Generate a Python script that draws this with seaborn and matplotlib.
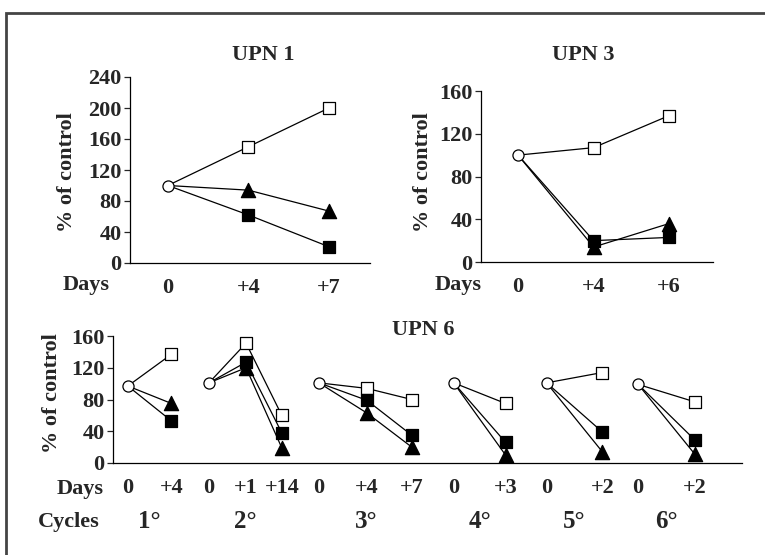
import pandas as pd
import matplotlib
matplotlib.use("Agg")
import matplotlib.pyplot as plt
import seaborn as sns
from matplotlib.patches import Rectangle

# Values (% of control)
upn1_days = ['0', '+4', '+7']
upn1_open = [100, 150, 200]
upn1_tri = [100, 94, 67]
upn1_fill = [100, 62, 21]

upn3_days = ['0', '+4', '+6']
upn3_open = [100, 107, 137]
upn3_tri = [100, 14, 36]
upn3_fill = [100, 20, 23]

upn6_cycles = ['1°', '2°', '3°', '4°', '5°', '6°']
upn6_cycle_of = [0, 0, 1, 1, 1, 2, 2, 2, 3, 3, 4, 4, 5, 5]
upn6_days = ['0', '+4', '0', '+1', '+14', '0', '+4', '+7', '0', '+3', '0', '+2', '0', '+2']
upn6_slot = [0, 1.0, 1.86, 2.71, 3.53, 4.38, 5.48, 6.51, 7.47, 8.66, 9.6, 10.88, 11.7, 13.0]
upn6_open = [97, 137, 101, 151, 60, 101, 94, 80, 101, 75, 101, 114, 99, 77]
upn6_fill = [97, 53, 101, 127, 38, 101, 79, 35, 101, 26, 101, 39, 99, 29]
upn6_tri = [97, 75, 101, 120, 19, 101, 63, 20, 101, 10, 101, 14, 99, 11]

sns.set_style("white")
plt.rcParams['font.family'] = ['Liberation Serif', 'DejaVu Serif']
plt.rcParams['font.weight'] = 'bold'
FS = 16

W, H = 765, 555
fig = plt.figure(figsize=(W / 100, H / 100), dpi=100)


def fx(x):
    return x / W


def fy(y):
    return 1 - y / H


def draw_series(ax, x, ys):
    # ys: open square, filled square, triangle
    styles = [('s', 'white', 66), ('s', 'black', 66), ('^', 'black', 105)]
    for vals in ys:
        sns.lineplot(x=x, y=vals, ax=ax, color='black', lw=0.9, estimator=None, sort=False)
    for vals, (m, fc, s) in zip(ys, styles):
        sns.scatterplot(x=x[1:], y=vals[1:], ax=ax, marker=m, color=fc, edgecolor='black',
                        linewidth=0.9, s=s, zorder=4)
    sns.scatterplot(x=x[:1], y=ys[0][:1], ax=ax, marker='o', color='white', edgecolor='black',
                    linewidth=0.9, s=64, zorder=5)


def style_axes(ax, ymax, step):
    sns.despine(ax=ax)
    ax.set_ylim(0, ymax)
    ax.set_yticks(range(0, ymax + 1, step))
    ax.tick_params(axis='y', direction='out', length=4, width=0.9, pad=2, labelsize=FS, left=True)
    ax.tick_params(axis='x', length=0, pad=11, labelsize=FS)
    for sp in ['left', 'bottom']:
        ax.spines[sp].set_linewidth(0.9)
        ax.spines[sp].set_color('black')
    ax.set_xlabel('')
    ax.set_ylabel('')


# UPN 1
ax1 = fig.add_axes([fx(130), fy(263), fx(240), 186 / H])
x1 = list(range(len(upn1_days)))
draw_series(ax1, x1, [upn1_open, upn1_fill, upn1_tri])
style_axes(ax1, 240, 40)
ax1.set_xlim(-0.47, 2.51)
ax1.set_xticks(x1)
ax1.set_xticklabels(upn1_days)

# UPN 3
ax3 = fig.add_axes([fx(481), fy(262), fx(232), 171 / H])
x3 = list(range(len(upn3_days)))
draw_series(ax3, x3, [upn3_open, upn3_fill, upn3_tri])
style_axes(ax3, 160, 40)
ax3.set_xlim(-0.49, 2.58)
ax3.set_xticks(x3)
ax3.set_xticklabels(upn3_days)

# UPN 6
ax6 = fig.add_axes([fx(113), fy(463), fx(629), 127 / H])
df6 = pd.DataFrame({'cycle': upn6_cycle_of, 'slot': upn6_slot, 'open': upn6_open,
                    'fill': upn6_fill, 'tri': upn6_tri})
for c, g in df6.groupby('cycle'):
    draw_series(ax6, list(g['slot']), [list(g['open']), list(g['fill']), list(g['tri'])])
style_axes(ax6, 160, 40)
ax6.set_xlim(-0.34, 14.08)
ax6.set_xticks(upn6_slot)
ax6.set_xticklabels(upn6_days)
for c, g in df6.groupby('cycle'):
    ax6.text(g['slot'].mean(), -74, upn6_cycles[c], ha='center', va='center',
             fontsize=FS + 2, fontweight='bold', clip_on=False)

# titles, labels
fig.text(fx(263), fy(55), 'UPN 1', ha='center', va='center', fontsize=FS, fontweight='bold')
fig.text(fx(583), fy(55), 'UPN 3', ha='center', va='center', fontsize=FS, fontweight='bold')
fig.text(fx(423), fy(330), 'UPN 6', ha='center', va='center', fontsize=FS, fontweight='bold')
fig.text(fx(86), fy(285), 'Days', ha='center', va='center', fontsize=FS, fontweight='bold')
fig.text(fx(458), fy(285), 'Days', ha='center', va='center', fontsize=FS, fontweight='bold')
fig.text(fx(80), fy(489), 'Days', ha='center', va='center', fontsize=FS, fontweight='bold')
fig.text(fx(69), fy(522), 'Cycles', ha='center', va='center', fontsize=FS, fontweight='bold')
for x, y in [(67, 172), (423, 172), (52, 393)]:
    fig.text(fx(x), fy(y), '% of control', ha='center', va='center', rotation=90,
             fontsize=FS, fontweight='bold')

# outer frame
fig.patches.append(Rectangle((fx(6.5), -0.1), 1.1, fy(13.5) + 0.1, transform=fig.transFigure,
                             fill=False, edgecolor='#444444', linewidth=2))

fig.savefig('out.png', dpi=100)
